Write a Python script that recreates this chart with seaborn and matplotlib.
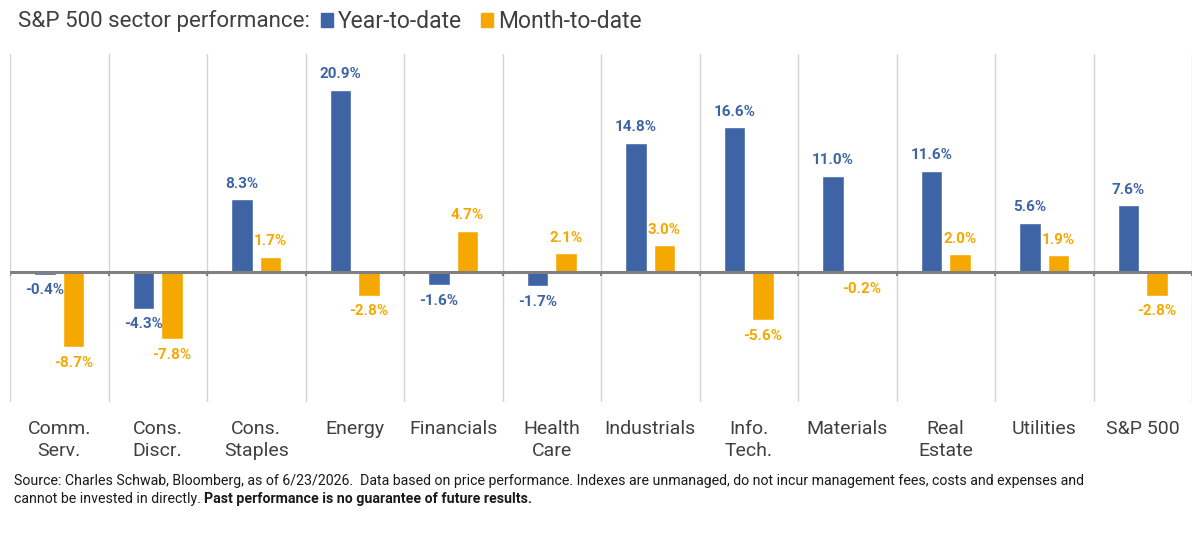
import matplotlib.pyplot as plt
import numpy as np
import pandas as pd
import seaborn as sns

# sector performance, %
sectors = ['Comm.\nServ.', 'Cons.\nDiscr.', 'Cons.\nStaples', 'Energy', 'Financials',
           'Health\nCare', 'Industrials', 'Info.\nTech.', 'Materials', 'Real\nEstate',
           'Utilities', 'S&P 500']
ytd = [-0.4, -4.3, 8.3, 20.9, -1.6, -1.7, 14.8, 16.6, 11.0, 11.6, 5.6, 7.6]
mtd = [-8.7, -7.8, 1.7, -2.8, 4.7, 2.1, 3.0, -5.6, -0.2, 2.0, 1.9, -2.8]
periods = ['Year-to-date', 'Month-to-date']

BLUE = '#3e64a6'
ORANGE = '#f5a800'
TXT = '#404040'

df = pd.DataFrame({
    'sector': sectors * 2,
    'value': ytd + mtd,
    'period': [periods[0]] * len(sectors) + [periods[1]] * len(sectors),
})

sns.set_style('white')
plt.rcParams['font.family'] = ['Roboto', 'DejaVu Sans']

fig = plt.figure(figsize=(12, 5.34), dpi=100)
ax = fig.add_axes([10 / 1200, 1 - 402 / 534, 1182 / 1200, 348 / 534])

sns.barplot(data=df, x='sector', y='value', hue='period', palette=[BLUE, ORANGE],
            width=0.58, gap=0.24, saturation=1, legend=False, ax=ax)

ax.set_ylim(-15, 25)
ax.set_xlim(-0.5, len(sectors) - 0.5)
ax.set_xlabel('')
ax.set_ylabel('')
ax.set_yticks([])
for s in ax.spines.values():
    s.set_visible(False)

# separators between categories
bounds = np.arange(len(sectors) + 1) - 0.5
ax.set_xticks(bounds, minor=True)
ax.grid(which='minor', axis='x', color='#d4d4d4', linewidth=1)
ax.grid(which='major', visible=False)
ax.tick_params(axis='x', which='both', length=0, pad=13, labelsize=14, labelcolor=TXT)
for lab in ax.get_xticklabels():
    lab.set_linespacing(1.25)
ax.axhline(0, color='#808080', linewidth=2.2, zorder=3)
ax.vlines(bounds, -0.5, 0, color='#808080', linewidth=1.5, zorder=3)

for cont, col in zip(ax.containers, [BLUE, ORANGE]):
    ax.bar_label(cont, fmt='%.1f%%', padding=6, color=col, fontsize=11,
                 fontweight='bold')

# title with inline legend
title = fig.text(18 / 1200, 1 - 21 / 534, 'S&P 500 sector performance:', fontsize=16.1,
                 color=TXT, va='center', ha='left')
fig.canvas.draw()
bb = title.get_window_extent()
handles = [plt.Rectangle((0, 0), 1, 1, color=c) for c in [BLUE, ORANGE]]
fig.legend(handles, periods, loc='center left', ncol=2, frameon=False,
           bbox_to_anchor=((bb.x1 + 11) / fig.bbox.width, 1 - 22 / 534),
           fontsize=16.5, labelcolor=TXT, handlelength=0.52, handleheight=0.55,
           handletextpad=0.22, columnspacing=0.83, borderpad=0.0, borderaxespad=0)

# footer
fig.text(14 / 1200, 1 - 481 / 534,
         'Source: Charles Schwab, Bloomberg, as of 6/23/2026.  Data based on price performance. '
         'Indexes are unmanaged, do not incur management fees, costs and expenses and',
         fontsize=10.2, color='#1a1a1a', va='center', ha='left')
t2 = fig.text(14 / 1200, 1 - 499 / 534, 'cannot be invested in directly. ',
              fontsize=10.2, color='#1a1a1a', va='center', ha='left')
ax.annotate('Past performance is no guarantee of future results.', xy=(1, 0.5),
            xycoords=t2, va='center', ha='left', fontsize=10.2, color='#1a1a1a',
            fontweight='bold', annotation_clip=False)

fig.savefig('out.png', dpi=100)
